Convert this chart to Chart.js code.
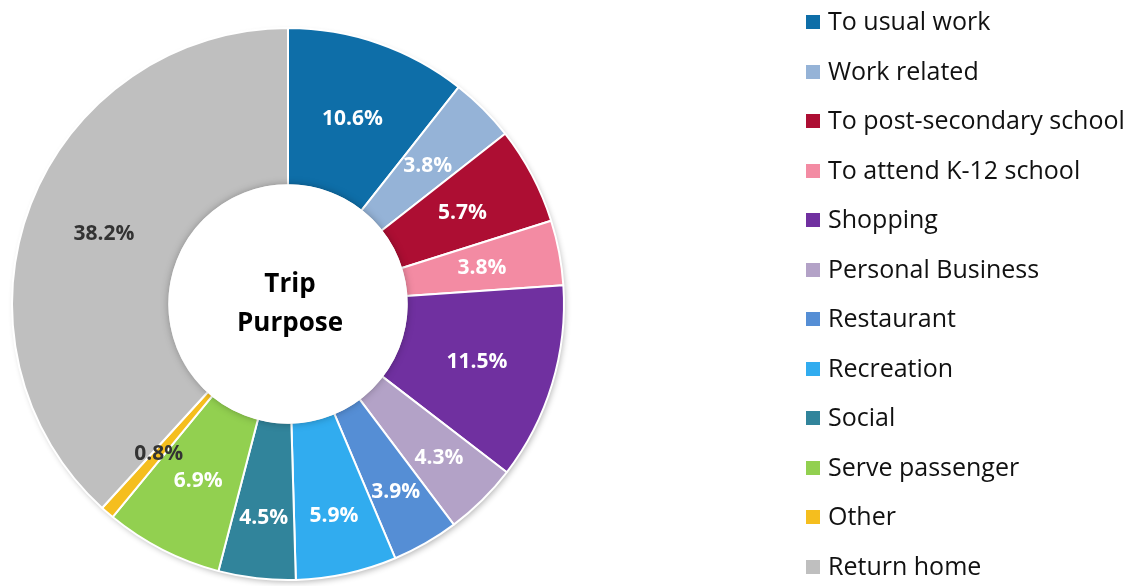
<!DOCTYPE html>
<html lang="en">
<head>
  <meta charset="UTF-8">
  <title>Trip Purpose</title>
  <script src="https://cdn.jsdelivr.net/npm/chart.js"></script>
  <style>
    html, body { margin: 0; padding: 0; background: #fff; }
    #wrap { position: relative; width: 1139px; height: 586px; }
    #legend {
      position: absolute;
      left: 806px;
      top: 2px;
      margin: 0;
      padding: 0;
      list-style: none;
      font-family: "Open Sans", "Noto Sans", sans-serif;
      font-size: 25px;
      color: #111;
    }
    #legend li {
      height: 49.5px;
      line-height: 36px;
      white-space: nowrap;
    }
    #legend span.box {
      display: inline-block;
      width: 14px;
      height: 14px;
      margin-right: 8px;
      vertical-align: 1px;
    }
  </style>
</head>
<body>
  <div id="wrap">
    <canvas id="tripChart" width="1139" height="586"></canvas>
    <ul id="legend"></ul>
  </div>

  <script>
    const purposes = [
      "To usual work", "Work related", "To post-secondary school", "To attend K-12 school",
      "Shopping", "Personal Business", "Restaurant", "Recreation",
      "Social", "Serve passenger", "Other", "Return home"
    ];
    const shares = [10.6, 3.8, 5.7, 3.8, 11.5, 4.3, 3.9, 5.9, 4.5, 6.9, 0.8, 38.2];
    const colors = [
      "#0E6EA8", "#95B3D7", "#AD0E33", "#F38BA3",
      "#7030A0", "#B3A2C7", "#558ED5", "#31ACEF",
      "#31849B", "#92D050", "#F5BE1E", "#BFBFBF"
    ];
    const labelColors = [
      "#fff", "#fff", "#fff", "#fff", "#fff", "#fff",
      "#fff", "#fff", "#fff", "#fff", "#333", "#333"
    ];
    // where the label sits across the ring (0 = inner edge, 1 = outer edge)
    const labelDepth = [0.5, 0.5, 0.5, 0.5, 0.5, 0.61, 0.62, 0.62, 0.61, 0.5, 0.5, 0.5];

    const legend = document.getElementById("legend");
    purposes.forEach((p, i) => {
      const li = document.createElement("li");
      li.innerHTML = `<span class="box" style="background:${colors[i]}"></span>${p}`;
      legend.appendChild(li);
    });

    const ringShadow = {
      id: 'ringShadow',
      beforeDatasetsDraw(chart) {
        const arc0 = chart.getDatasetMeta(0).data[0];
        if (!arc0) return;
        const ctx = chart.ctx;
        ctx.save();
        ctx.shadowColor = 'rgba(0,0,0,0.3)';
        ctx.shadowBlur = 6;
        ctx.shadowOffsetX = 2;
        ctx.shadowOffsetY = 3;
        ctx.beginPath();
        ctx.arc(arc0.x, arc0.y, arc0.outerRadius - 1, 0, Math.PI * 2);
        ctx.fillStyle = '#fff';
        ctx.fill();
        ctx.restore();
      }
    };

    const centerPlugin = {
      id: 'centerHub',
      afterDatasetsDraw(chart) {
        const ctx = chart.ctx;
        const meta = chart.getDatasetMeta(0);
        const arc0 = meta.data[0];
        const cx = arc0.x, cy = arc0.y, r = arc0.innerRadius;

        ctx.save();
        ctx.shadowColor = 'rgba(0,0,0,0.35)';
        ctx.shadowBlur = 8;
        ctx.beginPath();
        ctx.arc(cx, cy, r, 0, Math.PI * 2);
        ctx.fillStyle = '#fff';
        ctx.fill();
        ctx.restore();

        ctx.save();
        ctx.beginPath();
        ctx.arc(cx, cy, r, 0, Math.PI * 2);
        ctx.lineWidth = 2;
        ctx.strokeStyle = '#fff';
        ctx.stroke();

        ctx.fillStyle = '#000';
        ctx.font = 'bold 26px "Open Sans", "Noto Sans", sans-serif';
        ctx.textAlign = 'center';
        ctx.textBaseline = 'middle';
        ctx.fillText('Trip', cx + 2, cy - 19);
        ctx.fillText('Purpose', cx + 2, cy + 20);

        ctx.font = 'bold 21px "Open Sans", "Noto Sans", sans-serif';
        meta.data.forEach((arc, i) => {
          const mid = (arc.startAngle + arc.endAngle) / 2;
          const rr = arc.innerRadius + labelDepth[i] * (arc.outerRadius - arc.innerRadius);
          ctx.fillStyle = labelColors[i];
          ctx.fillText(shares[i].toFixed(1) + '%', arc.x + rr * Math.cos(mid), arc.y + rr * Math.sin(mid) + 1);
        });
        ctx.restore();
      }
    };

    new Chart(document.getElementById('tripChart'), {
      type: 'doughnut',
      data: {
        labels: purposes,
        datasets: [{
          data: shares,
          backgroundColor: colors,
          borderColor: '#fff',
          borderWidth: 2
        }]
      },
      options: {
        responsive: false,
        animation: false,
        cutout: '43%',
        layout: { padding: { left: 11, top: 27, bottom: 5, right: 574 } },
        plugins: {
          legend: { display: false },
          tooltip: { enabled: false }
        }
      },
      plugins: [ringShadow, centerPlugin]
    });
  </script>
</body>
</html>
